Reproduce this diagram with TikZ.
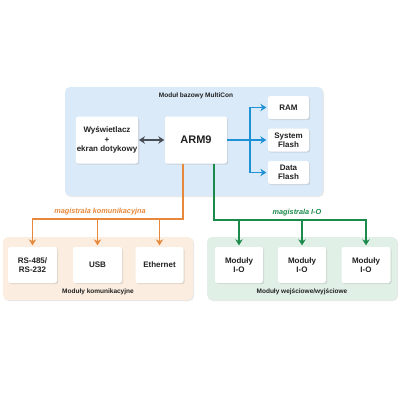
\documentclass[tikz,border=0pt]{standalone}
\usepackage{fontspec}
\setmainfont{Liberation Sans}
\usetikzlibrary{arrows.meta,shadows}
\definecolor{bluebg}{RGB}{219,234,248}
\definecolor{orangebg}{RGB}{251,238,224}
\definecolor{greenbg}{RGB}{225,240,231}
\definecolor{bluel}{RGB}{30,144,214}
\definecolor{orangel}{RGB}{232,136,58}
\definecolor{greenl}{RGB}{28,138,74}
\definecolor{grayl}{RGB}{72,78,86}
\definecolor{txt}{RGB}{34,34,34}
\begin{document}
\begin{tikzpicture}[x=1pt,y=-1pt,
  container/.style={rounded corners=5pt,draw=none,
    drop shadow={opacity=0.18,shadow xshift=1pt,shadow yshift=-1pt}},
  box/.style={fill=white,rounded corners=2.5pt,align=center,inner sep=1pt,
    text=txt,font=\bfseries\fontsize{8}{9.5}\selectfont,
    drop shadow={opacity=0.22,shadow xshift=1.2pt,shadow yshift=-1.2pt}},
  title/.style={text=txt,font=\bfseries\fontsize{6.5}{8}\selectfont},
  bus/.style={font=\bfseries\itshape\fontsize{7.3}{9}\selectfont},
  conn/.style={line width=1.8pt},
  tip/.style={conn,-{Stealth[length=6pt,width=7.5pt]},shorten >=1.5pt}]
\useasboundingbox[fill=white] (0,0) rectangle (400,400);
% containers
\path[container,fill=bluebg] (65,87) rectangle (323,196);
\path[container,fill=orangebg] (3,237) rectangle (193,300);
\path[container,fill=greenbg] (207,237) rectangle (397,300);
% titles
\node[title] (tmain) at (196,96) {Moduł bazowy MultiCon};
\node[title] (tcom) at (98,292) {Moduły komunikacyjne};
\node[title] (tio) at (302,292) {Moduły wejściowe/wyjściowe};
% top boxes
\node[box,minimum width=62pt,minimum height=47pt] (disp) at (107,140) {Wyświetlacz\\+\\ekran dotykowy};
\node[box,minimum width=62pt,minimum height=47pt,font=\bfseries\fontsize{11}{13}\selectfont] (arm) at (196,140) {ARM9};
\node[box,minimum width=41pt,minimum height=23pt] (ram) at (288.5,107.5) {RAM};
\node[box,minimum width=41pt,minimum height=23pt] (sys) at (288.5,140) {System\\Flash};
\node[box,minimum width=41pt,minimum height=23pt] (dat) at (288.5,172.5) {Data\\Flash};
% bottom boxes
\node[box,minimum width=49pt,minimum height=36pt] (rs) at (32.5,265) {RS-485/\\RS-232};
\node[box,minimum width=49pt,minimum height=36pt] (usb) at (97.5,265) {USB};
\node[box,minimum width=48pt,minimum height=36pt] (eth) at (159.5,265) {Ethernet};
\node[box,minimum width=48pt,minimum height=36pt] (io1) at (239,265) {Moduły\\I-O};
\node[box,minimum width=48pt,minimum height=36pt] (io2) at (302,265) {Moduły\\I-O};
\node[box,minimum width=49pt,minimum height=36pt] (io3) at (366,265) {Moduły\\I-O};
% display <-> ARM
\draw[conn,grayl,{Stealth[length=6pt,width=7.5pt]}-{Stealth[length=6pt,width=7.5pt]},shorten <=0.5pt,shorten >=0.5pt] (disp.east) -- (arm.west);
% blue
\coordinate (bt) at (250,140);
\draw[bluel,tip] (arm.east) -- (sys.west);
\draw[bluel,tip] (bt) |- (ram.west);
\draw[bluel,tip] (bt) |- (dat.west);
% orange bus
\coordinate (ob) at (183,219);
\draw[orangel,tip] (ob |- arm.south) -- (ob) -| (rs.north);
\draw[orangel,tip] (usb.north |- ob) -- (usb.north);
\draw[orangel,tip] (eth.north |- ob) -- (eth.north);
\node[bus,text=orangel] (lob) at (100,212) {magistrala komunikacyjna};
% green bus
\coordinate (gb) at (214,220);
\draw[greenl,tip] (gb |- arm.south) -- (gb) -| (io3.north);
\draw[greenl,tip] (io1.north |- gb) -- (io1.north);
\draw[greenl,tip] (io2.north |- gb) -- (io2.north);
\node[bus,text=greenl] (lgb) at (297,213) {magistrala I-O};
\end{tikzpicture}
\end{document}
